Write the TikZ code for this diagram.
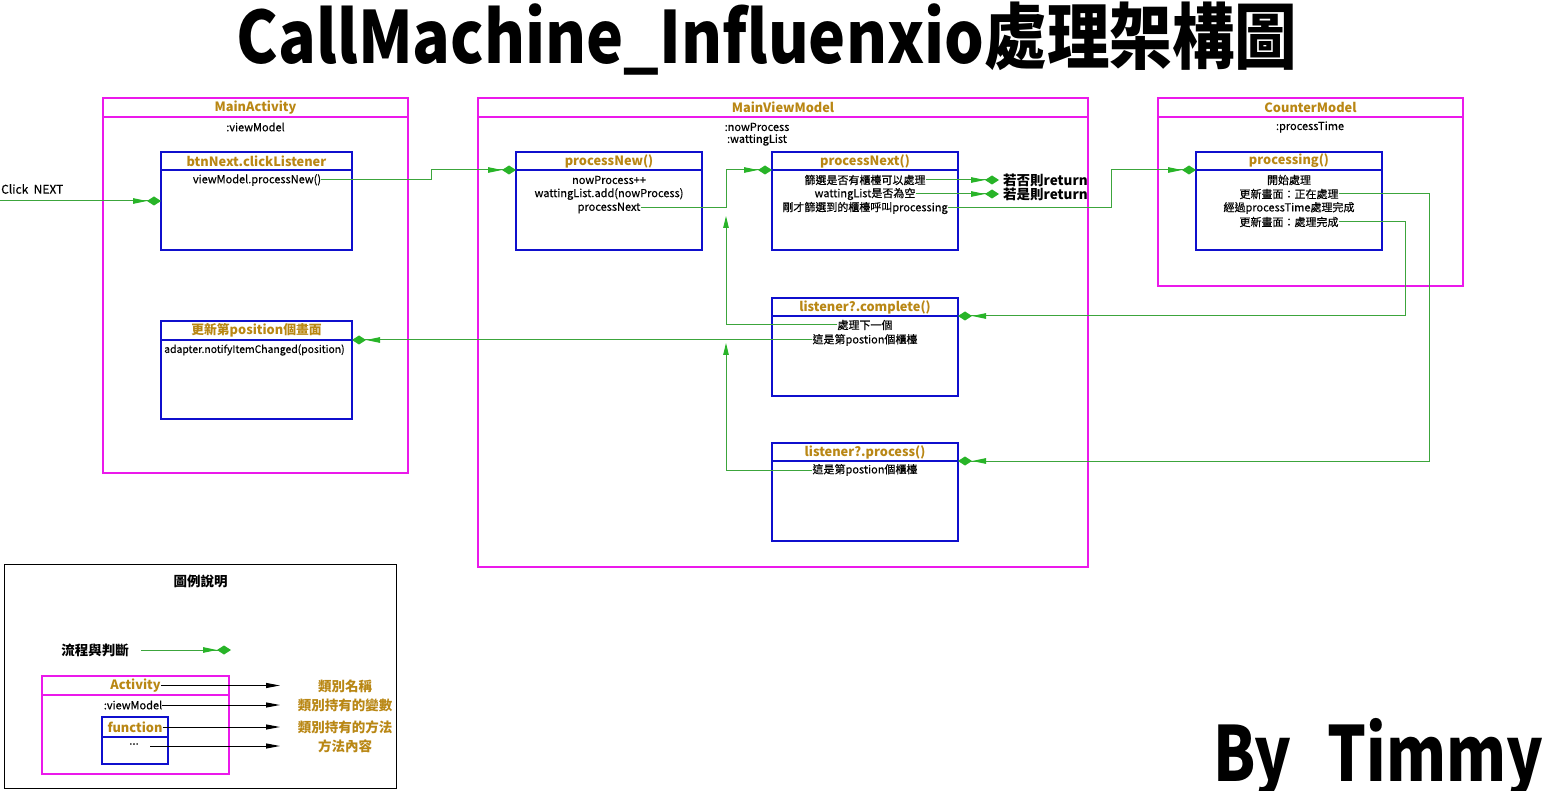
\documentclass[tikz,border=0pt]{standalone}
\usepackage{graphicx}
\usepackage{fontspec}
\setmainfont{Noto Sans CJK TC}
\newfontfamily\medfont{Noto Sans CJK TC}[FakeBold=0.4]
\usetikzlibrary{arrows.meta,calc}
\definecolor{mag}{RGB}{235,25,235}
\definecolor{bblue}{RGB}{15,15,205}
\definecolor{gold}{RGB}{185,135,20}
\definecolor{fgreen}{RGB}{60,165,60}
\definecolor{tgreen}{RGB}{40,180,40}
\tikzset{
  txt/.style={inner sep=0pt, font=\medfont\fontsize{11}{12}\selectfont},
  hdr/.style={inner sep=0pt, text=gold, font=\fontsize{12.8}{14}\selectfont\bfseries},
  big/.style={inner sep=0pt, font=\fontsize{13.5}{15}\selectfont\bfseries},
  flow/.style={draw=fgreen, line width=1pt,
    -{Triangle[length=14pt,width=5.5pt,sep=0pt,color=tgreen,fill=tgreen]Diamond[length=14pt,width=9pt,color=tgreen,fill=tgreen]}},
  merge/.style={draw=fgreen, line width=1pt, -{Triangle[length=12pt,width=5.5pt,color=tgreen,fill=tgreen]}},
  legarrow/.style={draw=black, line width=1pt, -{Triangle[length=14pt,width=5pt]}},
  classbox/.style={draw=mag, line width=2.6pt},
  funcbox/.style={draw=bblue, line width=2.4pt},
}
\newcommand{\umlbox}[8]{%
  \node[#7, anchor=north west, minimum width={#4-#2}, minimum height={#5-#3}, inner sep=0pt, outer sep=0pt] (#1) at (#2,#3) {};
  \coordinate (#1-hl) at ($(#1.north west)+(0,#6)$);
  \coordinate (#1-hr) at ($(#1.north east)+(0,#6)$);
  \draw[#7] (#1-hl) -- (#1-hr);
  \node[hdr] (#1-t) at ($(#1.north)+(0,#6/2)$) {#8};
}
\begin{document}
\begin{tikzpicture}[x=1pt,y=-1pt]
\useasboundingbox (0,0) rectangle (1547,791);
\fill[white] (0,0) rectangle (1547,791);

% title
\node[inner sep=0pt, anchor=base] (title) at (767,64) {\resizebox{1060pt}{\height}{\fontsize{72}{72}\selectfont\bfseries CallMachine\_Influenxio處理架構圖}};
\node[inner sep=0pt, anchor=base] (by) at (1378,781) {\resizebox{330pt}{\height}{\fontsize{76}{76}\selectfont\bfseries By\hspace{0.6em}Timmy}};

% MainActivity
\umlbox{ma}{103}{98}{408}{473}{19}{classbox}{MainActivity}
\node[txt] (mavar) at (255.5,127) {:viewModel};
\umlbox{btn}{161}{152}{352}{250}{18}{funcbox}{btnNext.clickListener}
\node[txt] (btn1) at (257,180) {viewModel.processNew()};
\umlbox{upd}{161}{321}{352}{419}{19}{funcbox}{更新第position個畫面}
\node[txt, anchor=west, font=\medfont\fontsize{10.4}{12}\selectfont] (upd1) at (164,350) {adapter.notifyItemChanged(position)};

% MainViewModel
\umlbox{mvm}{478}{98}{1088}{567}{19}{classbox}{MainViewModel}
\node[txt] (mvmv1) at (757,127) {:nowProcess};
\node[txt] (mvmv2) at (757,140) {:wattingList};
\umlbox{pn}{516}{152}{702}{250}{18}{funcbox}{processNew()}
\node[txt] (pn1) at (609,180) {nowProcess++};
\node[txt] (pn2) at (609,194) {wattingList.add(nowProcess)};
\node[txt] (pn3) at (609,208) {processNext};
\umlbox{px}{772}{152}{958}{250}{18}{funcbox}{processNext()}
\node[txt] (px1) at (865,180) {篩選是否有櫃檯可以處理};
\node[txt] (px2) at (865,194) {wattingList是否為空};
\node[txt] (px3) at (865,208) {剛才篩選到的櫃檯呼叫processing};
\umlbox{lc}{772}{298}{958}{396}{18}{funcbox}{listener?.complete()}
\node[txt] (lc1) at (865,325) {處理下一個};
\node[txt] (lc2) at (865,340) {這是第postion個櫃檯};
\umlbox{lp}{772}{443}{958}{541}{18}{funcbox}{listener?.process()}
\node[txt] (lp1) at (865,470) {這是第postion個櫃檯};

% CounterModel
\umlbox{cm}{1158}{98}{1463}{286}{19}{classbox}{CounterModel}
\node[txt] (cmv) at (1310,127) {:processTime};
\umlbox{pc}{1196}{152}{1382}{250}{18}{funcbox}{processing()}
\node[txt] (pc1) at (1289,180) {開始處理};
\node[txt] (pc2) at (1289,194) {更新畫面：正在處理};
\node[txt] (pc3) at (1289,208) {經過processTime處理完成};
\node[txt] (pc4) at (1289,222) {更新畫面：處理完成};

% outside labels
\node[big, anchor=west] (r1) at (1003,180) {若否則return};
\node[big, anchor=west] (r2) at (1003,194) {若是則return};
\node[inner sep=0pt, font=\medfont\fontsize{12}{14}\selectfont, anchor=west] (click) at (1,189) {Click\hspace{0.45em}NEXT};
\coordinate (cstart) at (0,201);

% bend points
\coordinate (b1) at (431,170);
\coordinate (b2) at (726,170);
\coordinate (m1) at (726,216);
\coordinate (m2) at (726,343);
\coordinate (b3) at (1111,170);
\coordinate (b4) at (1429,461);
\coordinate (b5) at (1405,316);

% connectors
\draw[flow] (cstart) -- (cstart -| btn.west);
\draw[flow] (btn1.east) -| (b1) -- (pn-hl);
\draw[flow] (pn3.east) -| (b2) -- (px-hl);
\draw[merge] (lc1.west) -| (m1);
\draw[merge] (lp1.west) -| (m2);
\draw[flow] (lc2.west) -- (lc2.west -| upd-hr);
\draw[flow, shorten >=4pt] (px1.east) -- (px1.east -| r1.west);
\draw[flow, shorten >=4pt] (px2.east) -- (px2.east -| r2.west);
\draw[flow] (px3.east) -| (b3) -- (pc-hl);
\draw[flow] (pc2.east) -| (b4) -- (lp-hr);
\draw[flow] (pc4.east) -| (b5) -- (lc-hr);

% legend
\node[draw=black, line width=1pt, anchor=north west, minimum width=392, minimum height=224, inner sep=0pt] (leg) at (4,564) {};
\node[big] (legt) at (200.5,581) {圖例說明};
\node[big] (legf) at (95,650) {流程與判斷};
\coordinate (lf1) at (141,650);
\coordinate (lf2) at (231,650);
\draw[flow] (lf1) -- (lf2);
\umlbox{act}{42}{676}{229}{774}{19}{classbox}{Activity}
\node[txt] (actv) at (133,705) {:viewModel};
\umlbox{fn}{102}{717}{168}{764}{20}{funcbox}{function}
\node[txt] (fndots) at (134,744) {...};
\coordinate (ldots) at (150,746);
\coordinate (la) at (280,686);
\draw[legarrow] (act-t.east) -- (act-t.east -| la);
\draw[legarrow] (actv.east) -- (actv.east -| la);
\draw[legarrow] (fn-t.east) -- (fn-t.east -| la);
\draw[legarrow] (ldots) -- (ldots -| la);
\node[big, text=gold] (ll1) at (345,686) {類別名稱};
\node[big, text=gold] (ll2) at (345,705) {類別持有的變數};
\node[big, text=gold] (ll3) at (345,727) {類別持有的方法};
\node[big, text=gold] (ll4) at (345,746) {方法內容};
\end{tikzpicture}
\end{document}
